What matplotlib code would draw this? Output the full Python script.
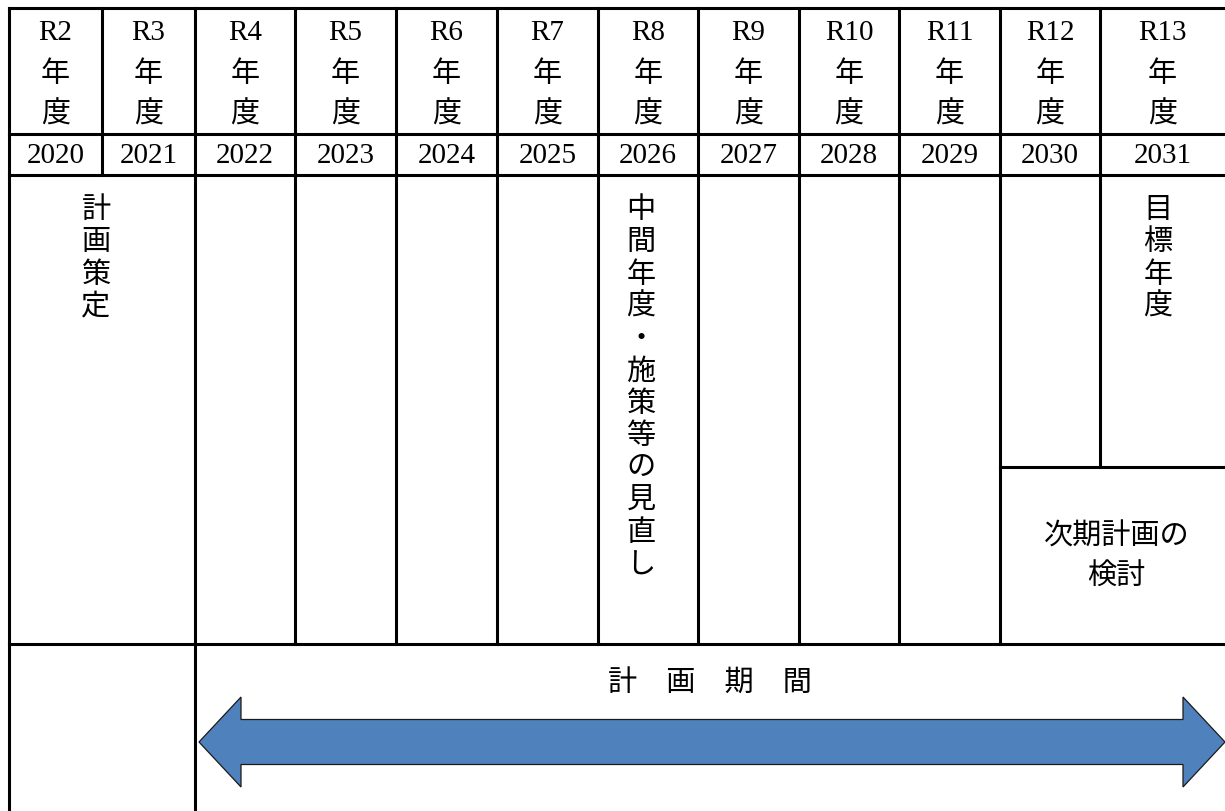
import matplotlib.pyplot as plt
import matplotlib.patches as mpatches

# table content
reiwa = ["R2", "R3", "R4", "R5", "R6", "R7", "R8", "R9", "R10", "R11", "R12", "R13"]
years = ["2020", "2021", "2022", "2023", "2024", "2025", "2026", "2027", "2028", "2029", "2030", "2031"]
nendo = ["年", "度"]
plan_text = "計画策定"
mid_text = "中間年度・施策等の見直し"
goal_text = "目標年度"
next_text = "次期計画の\n検討"
period_text = "計　画　期　間"

# layout in pixels (figure is 1225 x 812)
W, H = 1225, 812
col_edges = [9, 102, 195, 295, 396, 497, 598, 698, 799, 899, 1000, 1100, W]
row_edges = [9, 135, 176, 645, H]
split_y = 468
lw = 2.2
fs = 21
latin = ["Liberation Serif", "Noto Sans CJK JP"]
jp = ["Noto Sans CJK JP", "DejaVu Sans"]

fig = plt.figure(figsize=(W / 100, H / 100), dpi=100)
ax = fig.add_axes([0, 0, 1, 1])
ax.set_xlim(0, W)
ax.set_ylim(H, 0)
ax.axis("off")


def hline(y, x0, x1):
    ax.plot([x0, x1], [y, y], color="black", lw=lw, solid_capstyle="projecting")


def vline(x, y0, y1):
    ax.plot([x, x], [y0, y1], color="black", lw=lw, solid_capstyle="projecting")


# grid lines
for y in row_edges[:4]:
    hline(y, col_edges[0], W)
hline(split_y, col_edges[10], W)
vline(col_edges[0], row_edges[0], H)
vline(col_edges[1], row_edges[0], row_edges[2])
vline(col_edges[2], row_edges[0], H)
for x in col_edges[3:11]:
    vline(x, row_edges[0], row_edges[3])
vline(col_edges[11], row_edges[0], split_y)

# header rows
for i, (r, yr) in enumerate(zip(reiwa, years)):
    cx = (col_edges[i] + col_edges[i + 1]) / 2
    ax.text(cx, 33, r, ha="center", va="center", fontsize=fs, family=latin)
    for j, ch in enumerate(nendo):
        ax.text(cx, 74 + j * 41, ch, ha="center", va="center", fontsize=fs, family=jp)
    ax.text(cx, 156, yr, ha="center", va="center", fontsize=fs, family=latin)


def vtext(s, cx, y0, step=32.3):
    for k, ch in enumerate(s):
        ax.text(cx, y0 + k * step, ch, ha="center", va="center", fontsize=fs, family=jp)


vtext(plan_text, 96, 210)
vtext(mid_text, 641, 210)
vtext(goal_text, 1158, 210)

ax.text((col_edges[10] + W) / 2 + 4, 557, next_text, ha="center", va="center",
        fontsize=fs, family=jp, linespacing=1.45)

ax.text((col_edges[2] + W) / 2, 683, period_text, ha="center", va="center",
        fontsize=fs, family=jp)

# double-headed arrow for the plan period
x0, x1 = col_edges[2] + 4, W
yc, shaft, head, hl = 743, 22.5, 45, 42
pts = [(x0, yc), (x0 + hl, yc - head), (x0 + hl, yc - shaft), (x1 - hl, yc - shaft),
       (x1 - hl, yc - head), (x1, yc), (x1 - hl, yc + head), (x1 - hl, yc + shaft),
       (x0 + hl, yc + shaft), (x0 + hl, yc + head)]
ax.add_patch(mpatches.Polygon(pts, closed=True, facecolor="#4F81BD",
                              edgecolor="#1a1a1a", lw=0.9, clip_on=False))

fig.savefig("out.png", dpi=100)
